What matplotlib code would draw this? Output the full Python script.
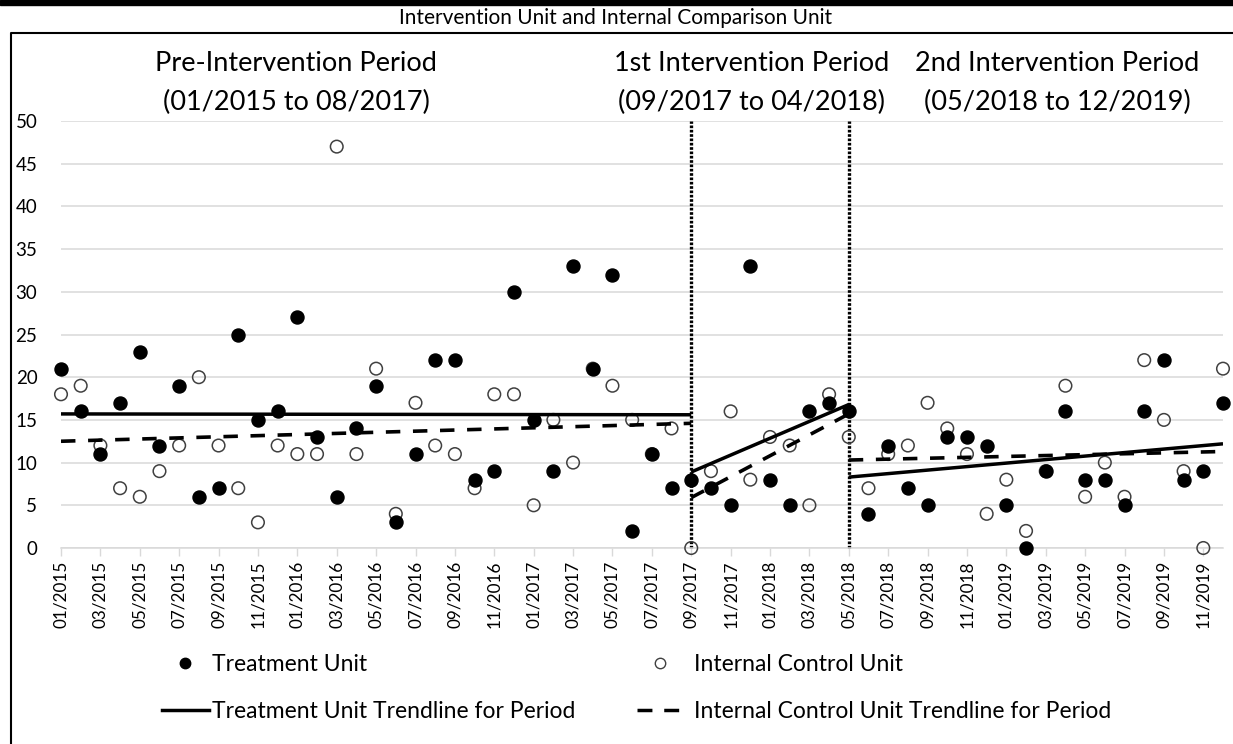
import matplotlib
matplotlib.use("Agg")
import matplotlib.pyplot as plt
from matplotlib.lines import Line2D
from matplotlib.patches import Rectangle

plt.rcParams['font.family'] = ['Lato', 'DejaVu Sans']

# monthly values, 01/2015 .. 12/2019
treatment = [21, 16, 11, 17, 23, 12, 19, 6, 7, 25, 15, 16, 27, 13, 6, 14,
             19, 3, 11, 22, 22, 8, 9, 30, 15, 9, 33, 21, 32, 2, 11, 7,
             8, 7, 5, 33, 8, 5, 16, 17,
             16, 4, 12, 7, 5, 13, 13, 12, 5, 0, 9, 16, 8, 8, 5, 16, 22, 8, 9, 17]
control = [18, 19, 12, 7, 6, 9, 12, 20, 12, 7, 3, 12, 11, 11, 47, 11,
           21, 4, 17, 12, 11, 7, 18, 18, 5, 15, 10, 21, 19, 15, 11, 14,
           0, 9, 16, 8, 13, 12, 5, 18,
           13, 7, 11, 12, 17, 14, 11, 4, 8, 2, 9, 19, 6, 10, 6, 22, 15, 9, 0, 21]
months = [f"{m:02d}/{y}" for y in range(2015, 2020) for m in range(1, 13)]

# trendline (start, end) month index and values per period
trend_x = [(0, 32), (32, 40), (40, 59)]
treat_trend = [(15.7, 15.6), (8.9, 16.8), (8.3, 12.2)]
ctrl_trend = [(12.5, 14.6), (5.9, 15.7), (10.3, 11.3)]
breaks = [32, 40]
period_titles = ["Pre-Intervention Period\n(01/2015 to 08/2017)",
                 "1st Intervention Period\n(09/2017 to 04/2018)",
                 "2nd Intervention Period\n(05/2018 to 12/2019)"]

W, H = 1233, 744
fig = plt.figure(figsize=(W / 100, H / 100), dpi=100)

# frame bits
fig.patches.append(Rectangle((0, 1 - 5 / H), 1, 5 / H, transform=fig.transFigure,
                             color='black', zorder=0))
fig.add_artist(Line2D([11 / W, 11 / W, 1], [0, 1 - 33 / H, 1 - 33 / H],
                      transform=fig.transFigure, color='black', lw=1.5))
fig.text(616 / W, 1 - 18 / H, "Intervention Unit and Internal Comparison Unit",
         ha='center', va='center', fontsize=15)

ax = fig.add_axes([61 / W, 1 - 548 / H, (1223 - 61) / W, (548 - 121) / H])
x = list(range(len(months)))

ax.scatter(x, control, s=82, facecolors='none', edgecolors='#404040',
           linewidths=1.1, zorder=3, clip_on=False)
ax.scatter(x, treatment, s=88, color='black', zorder=4, clip_on=False)

for (x0, x1), (t0, t1), (c0, c1) in zip(trend_x, treat_trend, ctrl_trend):
    ax.plot([x0, x1], [t0, t1], color='black', lw=2.5, zorder=5,
            solid_capstyle='butt')
    ax.plot([x0, x1], [c0, c1], color='black', lw=2.6, zorder=5,
            dashes=(4, 3.5))

for b in breaks:
    ax.plot([b, b], [0, 50], color='black', lw=2.4, linestyle=(0, (0.8, 0.5)),
            zorder=2, clip_on=False)

ax.set_xlim(0, 59)
ax.set_ylim(0, 50)
ax.set_yticks(range(0, 51, 5))
ax.yaxis.grid(True, color='#d9d9d9', lw=1.1)
ax.set_axisbelow(True)
ax.set_xticks(x[::2])
ax.set_xticklabels(months[::2], rotation=90, fontsize=12.3)
for s in ['top', 'right', 'left']:
    ax.spines[s].set_visible(False)
ax.spines['bottom'].set_color('#d9d9d9')
ax.spines['bottom'].set_linewidth(1.1)
ax.tick_params(axis='x', colors='#d9d9d9', length=6, width=1, pad=3,
               labelcolor='black')
ax.tick_params(axis='y', length=0, labelsize=13.5, pad=17)

centers = [296, 752, 1057]
for cx, t in zip(centers, period_titles):
    fig.text(cx / W, 1 - 83 / H, t, ha='center', va='center', fontsize=19.5,
             linespacing=1.7)

h1 = [Line2D([], [], marker='o', color='black', ls='none', markersize=7.5)]
h2 = [Line2D([], [], marker='o', mfc='none', mec='#404040', ls='none', markersize=7.5)]
h3 = [Line2D([], [], color='black', lw=2.5)]
h4 = [Line2D([], [], color='black', lw=2.5, dashes=(4.3, 3.4))]
legend_kw = dict(loc='center left', frameon=False, fontsize=16.5, labelspacing=1.15,
                 borderpad=0, borderaxespad=0, handlelength=2.05)
fig.legend(h1 + h3, ["Treatment Unit", "Treatment Unit Trendline for Period"],
           bbox_to_anchor=(162 / W, 1 - 688 / H), handletextpad=0.13, **legend_kw)
fig.legend(h2 + h4, ["Internal Control Unit", "Internal Control Unit Trendline for Period"],
           bbox_to_anchor=(637 / W, 1 - 688 / H), handletextpad=0.45, **legend_kw)

fig.savefig("out.png", dpi=100)
